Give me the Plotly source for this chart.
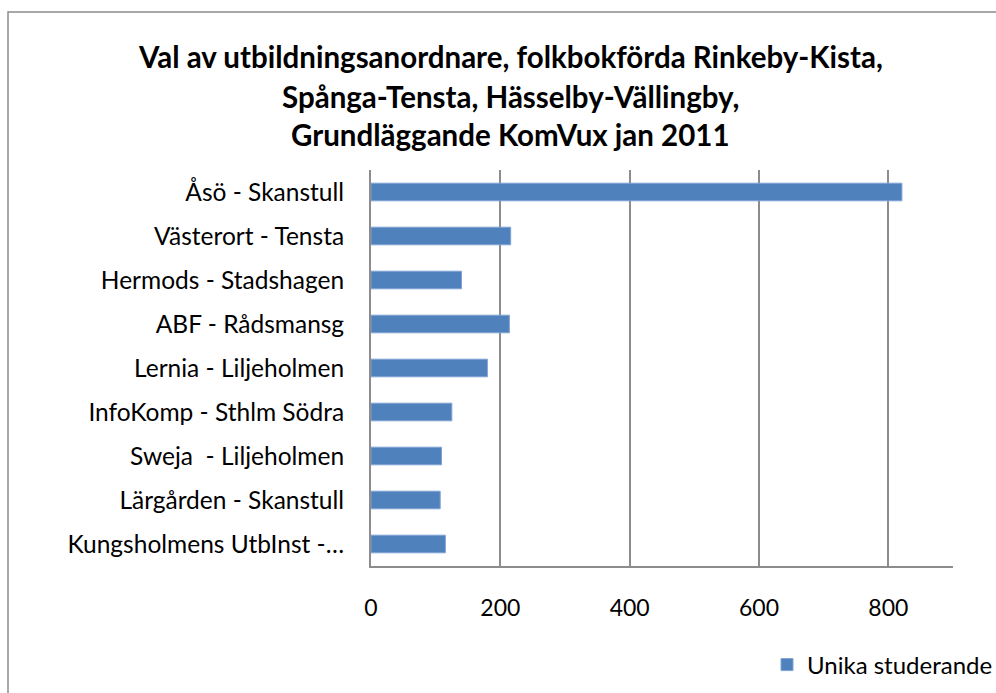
import plotly.graph_objects as go

categories = [
    "Åsö - Skanstull",
    "Västerort - Tensta",
    "Hermods - Stadshagen",
    "ABF - Rådsmansg",
    "Lernia - Liljeholmen",
    "InfoKomp - Sthlm Södra",
    "Sweja  - Liljeholmen",
    "Lärgården - Skanstull",
    "Kungsholmens UtbInst -…",
]
values = [821, 216, 140, 214, 180, 125, 109, 107, 115]
series_name = "Unika studerande"
title_lines = [
    "Val av utbildningsanordnare, folkbokförda Rinkeby-Kista,",
    "Spånga-Tensta, Hässelby-Vällingby,",
    "Grundläggande KomVux jan 2011",
]
x_ticks = [0, 200, 400, 600, 800]

W, H = 996, 693
L, R, T, B = 371, 953, 170, 566
FONT = "Lato"

def px_x(x):
    return (x - L) / (R - L)

def px_y(y):
    return (B - y) / (B - T)

fig = go.Figure()
fig.add_trace(go.Bar(
    y=[c.replace(" ", "\u00a0") for c in categories],
    x=values,
    orientation="h",
    name=series_name,
    marker=dict(color="#4F81BD", line=dict(color="#7FA3D3", width=1)),
    showlegend=True,
))

annotations = []
for line, yy in zip(title_lines, [56, 96, 135]):
    annotations.append(dict(
        text="<b>" + line + "</b>", x=px_x(510), y=px_y(yy),
        xref="paper", yref="paper", xanchor="center", yanchor="middle",
        showarrow=False, font=dict(family=FONT, size=29.5, color="#000000"),
    ))

fig.update_layout(
    width=W, height=H,
    margin=dict(l=L, r=W - R, t=T, b=H - B, pad=0, autoexpand=False),
    paper_bgcolor="white", plot_bgcolor="white",
    bargap=0.6,
    annotations=annotations,
    shapes=[dict(type="rect", xref="paper", yref="paper",
                 x0=px_x(8), y0=px_y(12), x1=px_x(1010), y1=px_y(720),
                 line=dict(color="#8c8c8c", width=1.5), layer="below")],
    legend=dict(x=px_x(998), y=px_y(665), xanchor="right", yanchor="middle",
                orientation="h", font=dict(family=FONT, size=24, color="#000000"),
                bgcolor="rgba(0,0,0,0)"),
    xaxis=dict(range=[0, 900], tickvals=x_ticks, showgrid=True,
               gridcolor="#8c8c8c", gridwidth=2, zeroline=False,
               showline=True, linecolor="#8c8c8c", linewidth=2,
               ticks="", ticklabelstandoff=20,
               tickfont=dict(family=FONT, size=23, color="#000000")),
    yaxis=dict(autorange="reversed", showgrid=False, zeroline=False,
               showline=True, linecolor="#8c8c8c", linewidth=2,
               ticks="", ticklabelstandoff=20,
               tickfont=dict(family=FONT, size=24.5, color="#000000")),
)

fig.write_html("out.html", config={"displayModeBar": False},
               post_script="document.body.style.margin='0';document.body.style.overflow='hidden';")
